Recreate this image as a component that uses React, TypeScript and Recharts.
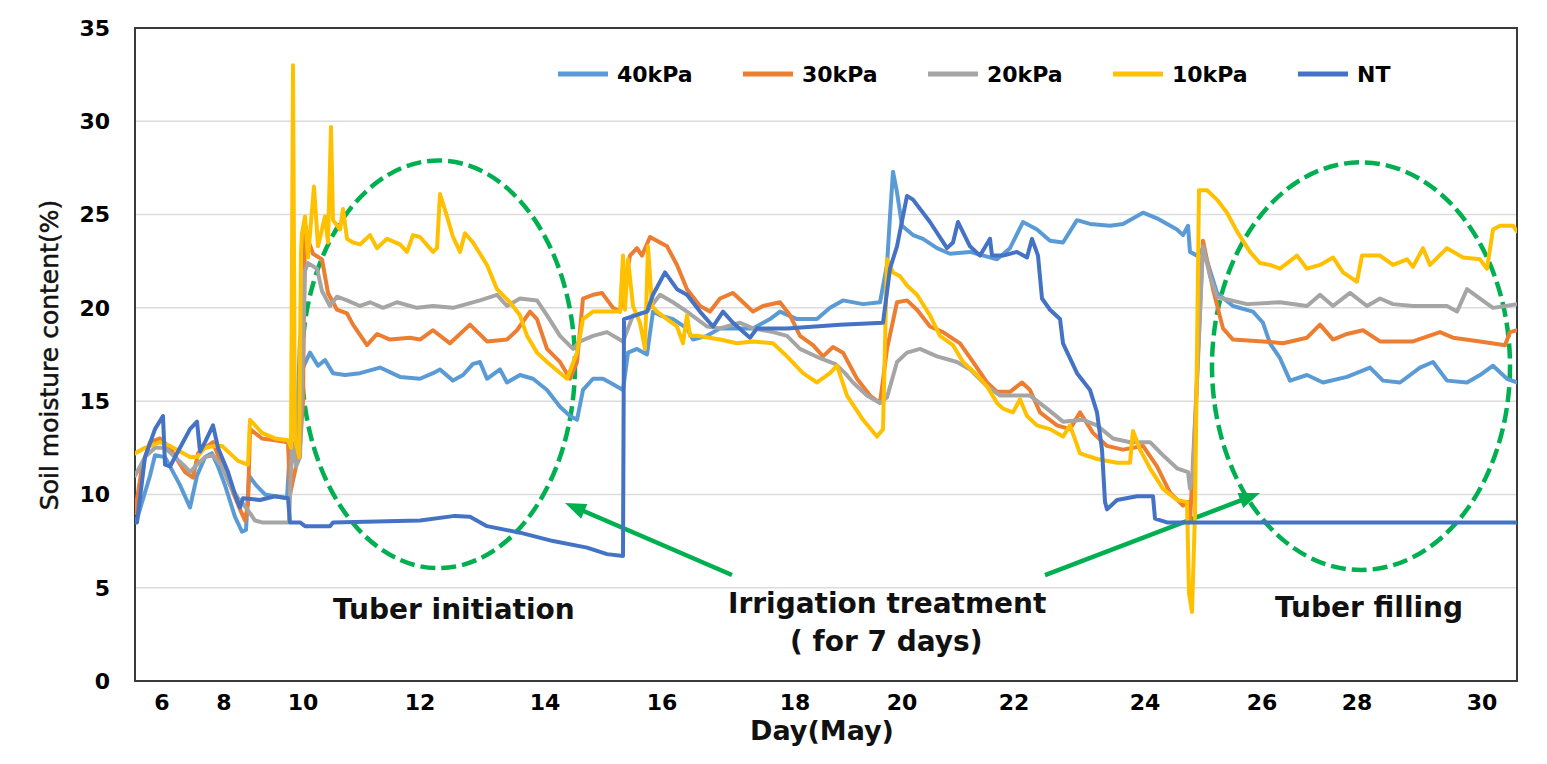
import React from 'react';
import { LineChart, Line, XAxis, YAxis, CartesianGrid, ReferenceArea } from 'recharts';

// x = record index along the (category-style) time axis, y = soil moisture (%)
const dayTickIdx = [13.5, 44.5, 84, 142.5, 205, 263.5, 330, 383.5, 439.5, 505, 563.5, 611, 673.5];
const dayLabels = ['6', '8', '10', '12', '14', '16', '18', '20', '22', '24', '26', '28', '30'];
const yTicks = [0, 5, 10, 15, 20, 25, 30, 35];

const seriesNames = ['40kPa', '30kPa', '20kPa', '10kPa', 'NT'];
const seriesColors = ['#5B9BD5', '#ED7D31', '#A5A5A5', '#FFC000', '#4472C4'];

const kPa40: [number, number][] = [
  [0.5, 8.5], [7.5, 11.0], [10, 12.1], [15, 12.0], [18.5, 11.3], [22.5, 10.5], [27.5, 9.3], [31, 11.0],
  [35, 12.0], [38.5, 12.2], [41.5, 11.5], [45, 10.5], [50, 8.8], [53.5, 8.0], [55.5, 8.1], [57, 11.0],
  [60.5, 10.5], [65, 10.0], [70, 9.9], [76, 9.8], [77.5, 12.5], [80.5, 12.0], [82.5, 18.4], [84, 16.8],
  [87.5, 17.6], [91.5, 16.9], [95, 17.2], [99, 16.5], [105, 16.4], [112.5, 16.5], [122.5, 16.8],
  [132.5, 16.3], [142.5, 16.2], [149, 16.5], [152.5, 16.7], [159, 16.1], [164, 16.4], [169, 17.0],
  [172.5, 17.1], [176, 16.2], [182.5, 16.7], [186, 16.0], [192.5, 16.4], [199, 16.2], [206, 15.6],
  [212.5, 14.7], [217.5, 14.2], [221, 14.0], [224, 15.6], [229, 16.2], [234, 16.2], [239, 15.9],
  [244, 15.6], [246.5, 17.6], [251, 17.8], [256, 17.5], [259, 19.8], [262.5, 19.6], [269, 19.4],
  [276, 18.9], [279, 18.3], [286, 18.5], [292.5, 18.9], [309, 18.9], [317.5, 19.4], [322.5, 19.8],
  [331, 19.4], [341, 19.4], [347.5, 20.0], [354, 20.4], [364, 20.2], [372.5, 20.3], [376, 22.3],
  [377.5, 24.9], [379, 27.3], [381, 26.2], [383.5, 24.4], [389, 23.9], [394, 23.7], [401, 23.2],
  [407.5, 22.9], [417.5, 23.0], [431, 22.6], [437.5, 23.2], [444, 24.6], [451, 24.2], [457.5, 23.6],
  [464, 23.5], [471, 24.7], [477.5, 24.5], [487.5, 24.4], [494, 24.5], [504, 25.1], [511, 24.8],
  [521, 24.2], [524, 23.9], [526.5, 24.4], [527.5, 23.0], [531, 22.8], [534, 23.2], [541, 20.8],
  [549, 20.1], [559, 19.8], [564, 19.2], [567.5, 18.1], [572.5, 17.3], [577.5, 16.1], [586, 16.4],
  [594, 16.0], [606, 16.3], [617.5, 16.8], [624, 16.1], [632.5, 16.0], [642.5, 16.8], [649, 17.1],
  [656, 16.1], [666, 16.0], [672.5, 16.4], [679, 16.9], [686, 16.2], [691, 16.0],
];

const kPa30: [number, number][] = [
  [0, 9.0], [3.5, 11.5], [7.5, 12.8], [12.5, 13.0], [17.5, 12.5], [21.5, 11.8], [25, 11.2], [29, 10.9],
  [31.5, 12.2], [35, 12.5], [39, 12.8], [42.5, 11.8], [47.5, 10.5], [52.5, 9.2], [55, 8.6], [56.5, 9.5],
  [57.5, 13.5], [63.5, 13.0], [70, 12.9], [76.5, 12.8], [77.5, 10.0], [79.5, 11.0], [82.5, 12.5],
  [84, 15.0], [85, 24.5], [87, 23.5], [89, 22.9], [93.5, 22.6], [96.5, 20.8], [101, 19.9], [106, 19.7],
  [109, 19.1], [116, 18.0], [121, 18.6], [127.5, 18.3], [137.5, 18.4], [142.5, 18.3], [149, 18.8],
  [157.5, 18.1], [167.5, 19.1], [176, 18.2], [186, 18.3], [191, 18.8], [197.5, 19.8], [201, 19.4],
  [206, 17.8], [212.5, 17.1], [217.5, 16.2], [221, 17.1], [224, 20.5], [229, 20.7], [233.5, 20.8],
  [239, 20.0], [242.5, 19.8], [247.5, 22.8], [251, 23.2], [253.5, 22.8], [257.5, 23.8], [262.5, 23.5],
  [266, 23.3], [271, 22.3], [276, 21.0], [282.5, 20.1], [287.5, 19.8], [292.5, 20.5], [299, 20.8],
  [304, 20.3], [309, 19.8], [314, 20.1], [322.5, 20.3], [327.5, 19.6], [332.5, 18.5], [339, 18.0],
  [344, 17.4], [349, 17.9], [354, 17.6], [361, 16.2], [367.5, 15.3], [372.5, 14.9], [376, 17.8],
  [381, 20.3], [386, 20.4], [391, 19.9], [397.5, 19.0], [404, 18.7], [412.5, 18.1], [419, 17.1],
  [426, 16.0], [431, 15.5], [437.5, 15.5], [443.5, 16.0], [447.5, 15.6], [452.5, 14.4], [461, 13.7],
  [467.5, 13.5], [472.5, 14.4], [479, 13.3], [486, 12.6], [494, 12.4], [504, 12.6], [511, 11.5],
  [517.5, 10.1], [524, 9.4], [526.5, 9.6], [527.5, 8.5], [530.5, 15.0], [534, 23.6], [539, 21.0],
  [544, 18.9], [549, 18.3], [564, 18.2], [574, 18.1], [586, 18.4], [592.5, 19.1], [599, 18.3],
  [606, 18.6], [614, 18.8], [622.5, 18.2], [639, 18.2], [652.5, 18.7], [659, 18.4], [672.5, 18.2],
  [685, 18.0], [687.5, 18.7], [691, 18.8],
];

const kPa20: [number, number][] = [
  [0, 11.0], [5, 12.0], [10, 12.5], [15, 12.5], [20, 12.0], [25, 11.5], [27.5, 11.2], [31, 11.6],
  [35, 12.0], [39, 12.1], [43.5, 11.5], [47.5, 10.5], [51.5, 9.8], [54, 9.5], [57.5, 9.0], [60, 8.6],
  [63.5, 8.5], [77, 8.5], [78.5, 12.8], [80.5, 11.5], [82.5, 12.0], [85, 22.0], [86.5, 22.4],
  [91, 22.1], [93.5, 20.9], [97.5, 20.1], [101, 20.6], [106, 20.4], [112.5, 20.1], [117.5, 20.3],
  [124, 20.0], [131, 20.3], [141, 20.0], [149, 20.1], [159, 20.0], [172.5, 20.4], [181, 20.7],
  [186, 20.1], [192.5, 20.5], [201, 20.4], [206, 19.6], [212.5, 18.5], [219, 17.8], [222.5, 18.2],
  [229, 18.5], [236, 18.7], [244, 18.2], [249, 19.6], [256, 19.8], [262.5, 20.7], [269, 20.3],
  [276, 19.8], [286, 19.0], [292.5, 18.9], [302.5, 19.2], [309, 18.9], [319, 18.7], [326, 18.5],
  [332.5, 17.8], [342.5, 17.3], [350, 17.0], [355, 16.5], [359, 16.0], [366, 15.3], [372.5, 14.9],
  [376, 15.2], [381, 17.1], [386, 17.6], [392.5, 17.8], [401, 17.4], [411, 17.1], [417.5, 16.7],
  [426, 15.8], [432.5, 15.3], [447.5, 15.3], [456, 14.6], [464, 13.9], [474, 14.0], [481, 13.7],
  [489, 13.0], [497.5, 12.8], [507.5, 12.8], [514, 12.1], [521, 11.4], [526.5, 11.2], [527.5, 10.3],
  [529, 11.2], [531, 16.0], [534, 23.3], [537.5, 21.7], [541, 20.6], [544, 20.5], [556, 20.2],
  [572.5, 20.3], [586, 20.1], [592.5, 20.7], [599, 20.1], [607.5, 20.8], [616, 20.1], [622.5, 20.5],
  [629, 20.2], [639, 20.1], [656, 20.1], [661, 19.8], [666, 21.0], [672.5, 20.5], [679, 20.0],
  [691, 20.2],
];

const kPa10: [number, number][] = [
  [0, 12.2], [5, 12.5], [12.5, 12.8], [17.5, 12.6], [22.5, 12.3], [27.5, 12.0], [31, 12.0], [35, 12.5],
  [40, 12.6], [43.5, 12.6], [47.5, 12.2], [51.5, 11.8], [56.5, 11.6], [57.5, 14.0], [63.5, 13.3],
  [70, 13.0], [76.5, 12.9], [78, 12.5], [79, 33.0], [80, 13.0], [82, 12.0], [83, 23.0], [83.5, 24.0],
  [85, 24.9], [86.5, 22.7], [89.5, 26.5], [91.5, 23.3], [95, 24.9], [96.5, 23.5], [98, 29.7],
  [99, 24.7], [102.5, 24.2], [104, 25.3], [106, 23.7], [109, 23.5], [112.5, 23.4], [117.5, 23.9],
  [121, 23.2], [126, 23.7], [132.5, 23.4], [136, 23.0], [139, 23.9], [142.5, 23.8], [149, 23.0],
  [151, 23.2], [152.5, 26.1], [156, 24.9], [159, 23.8], [162.5, 23.0], [165, 24.0], [169, 23.5],
  [176, 22.3], [181, 21.0], [187.5, 20.3], [192.5, 19.6], [196, 18.5], [201, 17.6], [206, 17.1],
  [216, 16.2], [218.5, 16.9], [221, 17.6], [224, 19.4], [229, 19.8], [242.5, 19.8], [244, 22.8],
  [245, 19.9], [246.5, 22.6], [249, 20.1], [252.5, 19.2], [255, 17.8], [256.5, 23.3], [258.5, 20.1],
  [261, 19.8], [266, 19.4], [271, 19.0], [274, 18.1], [276, 19.6], [277.5, 18.5], [281, 18.5],
  [292.5, 18.3], [301, 18.1], [309, 18.2], [319, 18.1], [326, 17.4], [334, 16.5], [341, 16.0],
  [347.5, 16.5], [351, 16.9], [356, 15.3], [364, 14.0], [371, 13.1], [374, 13.5], [376, 22.6],
  [379, 21.9], [382.5, 21.7], [386, 21.2], [391, 20.7], [397.5, 19.6], [402.5, 18.5], [409, 18.0],
  [414, 17.1], [421, 16.4], [426, 15.8], [431, 14.9], [434, 14.6], [439, 14.4], [442.5, 15.1],
  [446, 14.2], [451, 13.7], [457.5, 13.5], [464, 13.1], [467.5, 13.7], [472.5, 12.2], [481, 11.9],
  [491, 11.7], [497.5, 11.7], [499, 13.4], [502.5, 12.4], [507.5, 11.4], [514, 10.3], [521, 9.7],
  [526, 9.6], [527, 4.7], [528.5, 3.7], [530, 9.0], [532, 26.3], [536, 26.3], [541, 25.8],
  [546, 25.1], [551, 24.1], [557.5, 23.0], [562.5, 22.4], [567.5, 22.3], [572.5, 22.1], [581, 22.8],
  [586, 22.1], [592.5, 22.3], [599, 22.7], [604, 21.9], [611, 21.4], [613.5, 22.8], [622.5, 22.8],
  [629, 22.3], [636, 22.6], [639, 22.2], [644, 23.2], [647.5, 22.3], [656, 23.2], [664, 22.7],
  [672.5, 22.6], [676, 22.1], [679, 24.2], [682.5, 24.4], [689, 24.4], [691, 24.1],
];

const ntSeries: [number, number][] = [
  [1, 8.5], [5, 12.0], [10, 13.5], [14, 14.2], [15, 11.6], [17.5, 11.5], [22.5, 12.5], [27.5, 13.5],
  [31, 13.9], [32.5, 12.3], [35, 12.8], [39, 13.7], [41.5, 12.5], [46.5, 11.2], [50, 10.0], [52.5, 9.3],
  [54, 9.8], [62.5, 9.7], [70, 9.9], [76.5, 9.8], [77.5, 8.5], [82.5, 8.5], [85, 8.3], [97.5, 8.3],
  [99, 8.5], [142.5, 8.6], [160, 8.85], [167.5, 8.8], [176, 8.3], [192.5, 7.95], [209, 7.5],
  [226, 7.15], [236, 6.8], [244, 6.7], [244.5, 19.4], [256, 19.8], [259, 20.7], [265, 21.9],
  [271, 21.0], [276, 20.7], [282.5, 19.8], [289, 19.0], [294, 19.8], [299, 19.2], [307.5, 18.4],
  [311, 18.9], [326, 18.9], [352.5, 19.1], [374, 19.2], [377.5, 22.1], [381, 23.3], [386, 26.0],
  [389, 25.8], [397.5, 24.6], [406, 23.2], [409, 23.5], [411.5, 24.6], [417.5, 23.3], [422.5, 22.8],
  [427.5, 23.7], [428.5, 22.8], [434, 22.8], [441, 23.0], [446, 22.7], [448.5, 23.7], [451.5, 22.8],
  [453.5, 20.5], [457.5, 19.9], [462.5, 19.4], [464, 18.1], [471, 16.5], [477.5, 15.6], [481, 14.4],
  [483.5, 12.4], [485, 9.6], [486, 9.2], [491, 9.7], [501, 9.9], [509, 9.9], [510, 8.7], [516, 8.5],
  [691, 8.5],
];

const allSeries = [kPa40, kPa30, kPa20, kPa10, ntSeries];

// annotation boxes in data units: [xStart, xEnd, yLow, yHigh]
const ellipses: [number, number, number, number][] = [
  [83.5, 220, 6.05, 27.9],
  [538.5, 687.5, 5.95, 27.8],
];
// arrows: [tailX, tailY, tipX, tipY]
const arrows: [number, number, number, number][] = [
  [298.5, 5.68, 215, 9.54],
  [455, 5.68, 562.5, 10.07],
];

const GREEN = '#00B050';
const FONT = '"DejaVu Sans", Verdana, sans-serif';

const toPoints = (arr: [number, number][]) => arr.map(([i, v]) => ({ i, v }));

const EllipseShape = (p: any) => (
  <ellipse
    cx={p.x + p.width / 2}
    cy={p.y + p.height / 2}
    rx={Math.abs(p.width) / 2}
    ry={Math.abs(p.height) / 2}
    fill="none"
    stroke={GREEN}
    strokeWidth={4.5}
    strokeDasharray="15 6"
  />
);

const makeArrowShape = (a: [number, number, number, number]) => (p: any) => {
  const left = p.x;
  const right = p.x + p.width;
  const top = p.y;
  const bottom = p.y + p.height;
  const tailX = a[0] < a[2] ? left : right;
  const tipX = a[0] < a[2] ? right : left;
  const tailY = a[1] < a[3] ? bottom : top;
  const tipY = a[1] < a[3] ? top : bottom;
  const dx = tipX - tailX;
  const dy = tipY - tailY;
  const len = Math.sqrt(dx * dx + dy * dy) || 1;
  const ux = dx / len;
  const uy = dy / len;
  const headLen = 21;
  const headHalf = 8;
  const bx = tipX - ux * headLen;
  const by = tipY - uy * headLen;
  const p1 = `${tipX},${tipY}`;
  const p2 = `${bx - uy * headHalf},${by + ux * headHalf}`;
  const p3 = `${bx + uy * headHalf},${by - ux * headHalf}`;
  return (
    <g>
      <line x1={tailX} y1={tailY} x2={bx + ux * 4} y2={by + uy * 4} stroke={GREEN} strokeWidth={4.5} />
      <polygon points={`${p1} ${p2} ${p3}`} fill={GREEN} />
    </g>
  );
};

const BorderShape = (p: any) => (
  <rect x={p.x} y={p.y} width={p.width} height={p.height} fill="none" stroke="#3a3a3a" strokeWidth={2} />
);

export default function App() {
  return (
    <div style={{ position: 'absolute', left: 0, top: 0, width: 1547, height: 764, background: '#fff' }}>
      <LineChart width={1547} height={764} margin={{ top: 28, right: 30, bottom: 0, left: 0 }}>
        <CartesianGrid horizontal vertical={false} stroke="#dcdcdc" strokeWidth={1.5} />
        <XAxis
          type="number"
          dataKey="i"
          domain={[0, 691]}
          allowDataOverflow
          ticks={dayTickIdx}
          interval={0}
          tickFormatter={(val: number) => dayLabels[dayTickIdx.indexOf(val)] ?? ''}
          height={83}
          axisLine={false}
          tickLine={false}
          tickSize={0}
          tickMargin={13}
          tick={{ fontFamily: FONT, fontSize: 22, fontWeight: 'bold', fill: '#000' }}
        />
        <YAxis
          type="number"
          domain={[0, 35]}
          ticks={yTicks}
          interval={0}
          width={135}
          axisLine={false}
          tickLine={false}
          tickSize={0}
          tickMargin={25}
          tick={{ fontFamily: FONT, fontSize: 22, fontWeight: 'bold', fill: '#000' }}
        />
        {allSeries.map((s, k) => (
          <Line
            key={seriesNames[k]}
            data={toPoints(s)}
            dataKey="v"
            name={seriesNames[k]}
            type="linear"
            stroke={seriesColors[k]}
            strokeWidth={4}
            strokeLinejoin="round"
            strokeLinecap="round"
            dot={false}
            activeDot={false}
            isAnimationActive={false}
          />
        ))}
        <ReferenceArea x1={0} x2={691} y1={0} y2={35} shape={BorderShape} ifOverflow="visible" />
        {ellipses.map((e, k) => (
          <ReferenceArea key={'el' + k} x1={e[0]} x2={e[1]} y1={e[2]} y2={e[3]} shape={EllipseShape} ifOverflow="visible" />
        ))}
        {arrows.map((a, k) => (
          <ReferenceArea
            key={'ar' + k}
            x1={Math.min(a[0], a[2])}
            x2={Math.max(a[0], a[2])}
            y1={Math.min(a[1], a[3])}
            y2={Math.max(a[1], a[3])}
            shape={makeArrowShape(a)}
            ifOverflow="visible"
          />
        ))}
      </LineChart>
      <svg
        width={1547}
        height={764}
        style={{ position: 'absolute', left: 0, top: 0, pointerEvents: 'none' }}
        fontFamily={FONT}
      >
        {seriesNames.map((n, k) => (
          <g key={n}>
            <line x1={558 + 185 * k} x2={608 + 185 * k} y1={74} y2={74} stroke={seriesColors[k]} strokeWidth={5} />
            <text x={617 + 185 * k} y={82} fontSize={22} fontWeight="bold" fill="#000">{n}</text>
          </g>
        ))}
        <text
          transform="translate(58,355) rotate(-90)"
          textAnchor="middle"
          fontSize={25}
          fill="#111"
          stroke="#111"
          strokeWidth={0.5}
        >
          Soil moisture content(%)
        </text>
        <text x={822} y={740} textAnchor="middle" fontSize={27} fontWeight="bold" fill="#111">Day(May)</text>
        <text x={333} y={619} fontSize={28} fontWeight="bold" fill="#111">Tuber initiation</text>
        <text x={728} y={613} fontSize={28} fontWeight="bold" fill="#111">Irrigation treatment</text>
        <text x={790} y={651} fontSize={28} fontWeight="bold" fill="#111">( for 7 days)</text>
        <text x={1275} y={617} fontSize={28} fontWeight="bold" fill="#111">Tuber filling</text>
      </svg>
    </div>
  );
}
